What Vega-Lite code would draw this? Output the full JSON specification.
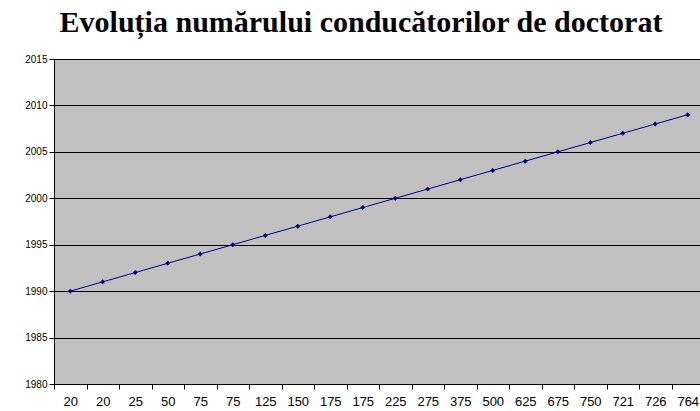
{
  "$schema": "https://vega.github.io/schema/vega-lite/v6.json",
  "autosize": {"type": "none"},
  "width": 650,
  "height": 325,
  "padding": {"left": 54, "top": 59, "right": 0, "bottom": 27},
  "background": "#ffffff",
  "title": {
    "text": "Evoluția numărului conducătorilor de doctorat",
    "font": "Liberation Serif",
    "fontSize": 30,
    "fontWeight": "bold",
    "color": "#000000",
    "anchor": "middle",
    "frame": "group",
    "dx": -18,
    "offset": 16
  },
  "config": {
    "view": {"fill": "#C0C0C0", "stroke": null},
    "axis": {"labelFont": "Liberation Sans", "labelColor": "#000000"}
  },
  "data": {
    "values": [
      {"i": 1, "label": "20", "year": 1990},
      {"i": 2, "label": "20", "year": 1991},
      {"i": 3, "label": "25", "year": 1992},
      {"i": 4, "label": "50", "year": 1993},
      {"i": 5, "label": "75", "year": 1994},
      {"i": 6, "label": "75", "year": 1995},
      {"i": 7, "label": "125", "year": 1996},
      {"i": 8, "label": "150", "year": 1997},
      {"i": 9, "label": "175", "year": 1998},
      {"i": 10, "label": "175", "year": 1999},
      {"i": 11, "label": "225", "year": 2000},
      {"i": 12, "label": "275", "year": 2001},
      {"i": 13, "label": "375", "year": 2002},
      {"i": 14, "label": "500", "year": 2003},
      {"i": 15, "label": "625", "year": 2004},
      {"i": 16, "label": "675", "year": 2005},
      {"i": 17, "label": "750", "year": 2006},
      {"i": 18, "label": "721", "year": 2007},
      {"i": 19, "label": "726", "year": 2008},
      {"i": 20, "label": "764", "year": 2009}
    ]
  },
  "encoding": {
    "x": {
      "field": "i",
      "type": "ordinal",
      "scale": {"type": "band", "paddingInner": 0, "paddingOuter": 0},
      "axis": {
        "title": null,
        "labelAngle": 0,
        "labelFontSize": 13,
        "labelPadding": 6,
        "tickBand": "extent",
        "tickSize": 5,
        "tickColor": "#000000",
        "domainColor": "#000000",
        "grid": false,
        "labelExpr": "['20','20','25','50','75','75','125','150','175','175','225','275','375','500','625','675','750','721','726','764'][datum.value-1]"
      }
    },
    "y": {
      "field": "year",
      "type": "quantitative",
      "scale": {"domain": [1980, 2015], "nice": false, "zero": false},
      "axis": {
        "title": null,
        "values": [1980, 1985, 1990, 1995, 2000, 2005, 2010, 2015],
        "format": "d",
        "labelFontSize": 10,
        "labelPadding": 2,
        "tickSize": 5,
        "tickColor": "#000000",
        "domainColor": "#000000",
        "gridColor": "#000000",
        "gridOpacity": 1
      }
    }
  },
  "layer": [
    {"mark": {"type": "line", "color": "#000080", "strokeWidth": 1}},
    {"mark": {"type": "point", "shape": "diamond", "filled": true, "color": "#000080", "size": 25, "opacity": 1}}
  ]
}
